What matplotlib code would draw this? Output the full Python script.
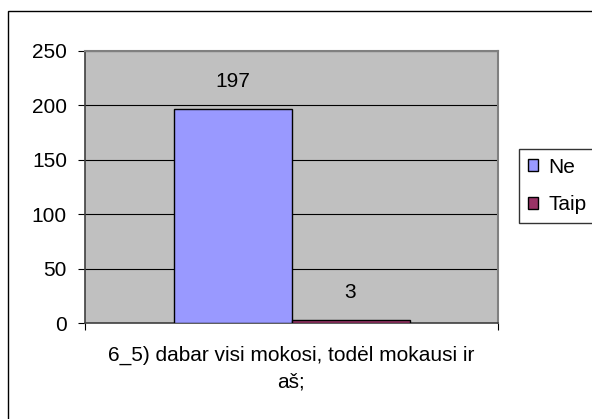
import matplotlib.pyplot as plt
from matplotlib.patches import Rectangle, Patch

# datos
series = ['Ne', 'Taip']
values = [197, 3]
colors = ['#9999FF', '#993366']
category_lines = ['6_5) dabar visi mokosi, todėl mokausi ir', 'aš;']
yticks = [0, 50, 100, 150, 200, 250]

plt.rcParams['font.family'] = ['Liberation Sans', 'DejaVu Sans']
fs = 15

fig = plt.figure(figsize=(5.92, 4.19), dpi=100)
W, H = 592, 419

# marco exterior del gráfico
fig.patches.append(Rectangle((8 / W, -0.01), 1.02, 1 - 11 / H + 0.01,
                             transform=fig.transFigure, fill=False,
                             edgecolor='black', linewidth=1.0))

ax = fig.add_axes([85 / W, 1 - 323 / H, (498 - 85) / W, (323 - 51) / H])
ax.set_facecolor('#C0C0C0')

width = 118 / 413
offsets = [-width / 2, width / 2]
for off, v, c in zip(offsets, values, colors):
    ax.bar(off, v, width=width, color=c, edgecolor='black', linewidth=1.0, zorder=3)
    ax.annotate(str(v), (off, v), xytext=(0, 19.5), textcoords='offset points',
                ha='center', va='center', fontsize=fs)

ax.set_xlim(-0.5, 0.5)
ax.set_ylim(0, 250)
ax.set_yticks(yticks)
ax.set_yticklabels([str(t) for t in yticks], fontsize=fs)
ax.yaxis.grid(True, color='black', linewidth=0.8, zorder=0)
ax.set_axisbelow(True)

ax.set_xticks([-0.5, 0.5])
ax.set_xticklabels(['', ''])
ax.tick_params(axis='x', length=5, width=0.8, color='black', direction='out')
ax.tick_params(axis='y', length=5, width=0.8, color='black', direction='out', pad=8)

# etiqueta de la categoría en dos líneas
fig.text(291 / W, 1 - 355 / H, category_lines[0], ha='center', va='center', fontsize=fs)
fig.text(291 / W, 1 - 382 / H, category_lines[1], ha='center', va='center', fontsize=fs)

for side in ['top', 'right']:
    ax.spines[side].set_color('#808080')
    ax.spines[side].set_linewidth(1.5)
for side in ['left', 'bottom']:
    ax.spines[side].set_color('#404040')
    ax.spines[side].set_linewidth(1.2)

handles = [Patch(facecolor=c, edgecolor='black', linewidth=1.0) for c in colors]
leg = fig.legend(handles, series, loc='upper left',
                 bbox_to_anchor=(519 / W, 1 - 149 / H),
                 frameon=True, fancybox=False, edgecolor='black',
                 handlelength=0.5, handleheight=0.5, handletextpad=0.5,
                 labelspacing=0.9, borderpad=0.42, borderaxespad=0,
                 fontsize=fs)
leg.get_frame().set_linewidth(1.0)

fig.savefig('out.png', dpi=100)
